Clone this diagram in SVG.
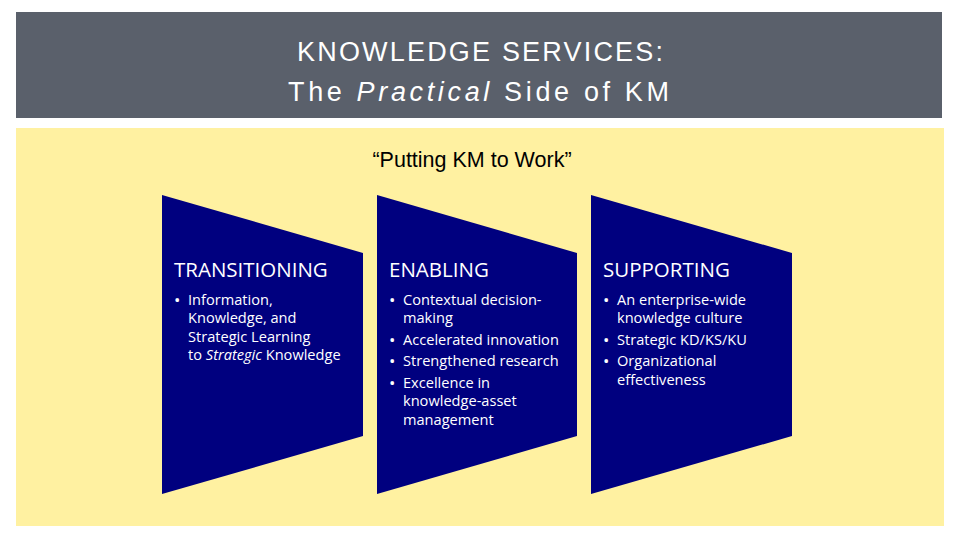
<svg xmlns="http://www.w3.org/2000/svg" width="960" height="540" viewBox="0 0 960 540">
<style>
.title{font-family:"Liberation Sans",Arial,sans-serif;font-size:27px;fill:#fff;text-anchor:middle}
.sub{font-family:"Liberation Sans",Arial,sans-serif;font-size:21.5px;fill:#000;text-anchor:middle}
.shape{fill:#00007f}
.head{font-family:"Open Sans","Liberation Sans",sans-serif;font-size:20.5px;fill:#fff}
.body{font-family:"Open Sans","Liberation Sans",sans-serif;font-size:14.6px;fill:#fff}
.bul{font-size:17px}
</style>
<rect width="960" height="540" fill="#fff"/>
<rect x="16" y="12" width="926" height="106" fill="#5a606b"/>
<text class="title" x="480" y="61" textLength="366" lengthAdjust="spacing">KNOWLEDGE SERVICES:</text>
<text class="title" x="478.5" y="101" textLength="381" lengthAdjust="spacing">The <tspan font-style="italic">Practical</tspan> Side of KM</text>
<rect x="16" y="128" width="928" height="398" fill="#fff1a1"/>
<text class="sub" x="472" y="167">“Putting KM to Work”</text>
<g id="transitioning">
<polygon class="shape" points="162,195 363,253 363,436 162,494"/>
<text class="head" x="174" y="277">TRANSITIONING</text>
<text class="body"><tspan class="bul" x="174" y="306">•</tspan><tspan x="188" y="305">Information,</tspan><tspan x="188" y="323">Knowledge, and</tspan><tspan x="188" y="342">Strategic Learning</tspan><tspan x="188" y="360">to <tspan font-style="italic">Strategic</tspan> Knowledge</tspan></text>
</g>
<g id="enabling">
<polygon class="shape" points="377,195 577,253 577,436 377,494"/>
<text class="head" x="389" y="277">ENABLING</text>
<text class="body"><tspan class="bul" x="389" y="306">•</tspan><tspan x="403" y="305">Contextual decision-</tspan><tspan x="403" y="323">making</tspan><tspan class="bul" x="389" y="346">•</tspan><tspan x="403" y="345">Accelerated innovation</tspan><tspan class="bul" x="389" y="367">•</tspan><tspan x="403" y="366">Strengthened research</tspan><tspan class="bul" x="389" y="389">•</tspan><tspan x="403" y="388">Excellence in</tspan><tspan x="403" y="406">knowledge-asset</tspan><tspan x="403" y="425">management</tspan></text>
</g>
<g id="supporting">
<polygon class="shape" points="591,195 792,253 792,436 591,494"/>
<text class="head" x="603" y="277">SUPPORTING</text>
<text class="body"><tspan class="bul" x="603" y="306">•</tspan><tspan x="617" y="305">An enterprise-wide</tspan><tspan x="617" y="323">knowledge culture</tspan><tspan class="bul" x="603" y="346">•</tspan><tspan x="617" y="345">Strategic KD/KS/KU</tspan><tspan class="bul" x="603" y="367">•</tspan><tspan x="617" y="366">Organizational</tspan><tspan x="617" y="385">effectiveness</tspan></text>
</g>
<g id="connectors"/>
</svg>
